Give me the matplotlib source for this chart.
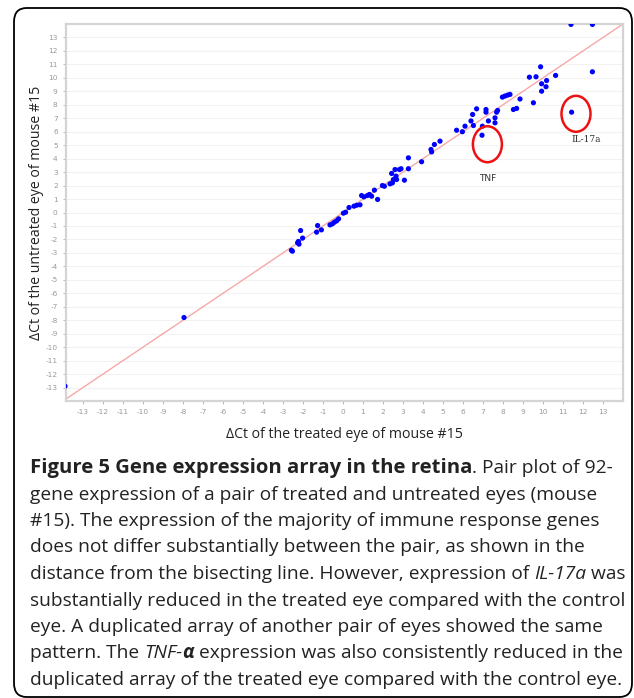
import matplotlib
matplotlib.use('Agg')
import matplotlib.pyplot as plt
from matplotlib.patches import Ellipse, FancyBboxPatch

plt.rcParams['axes.unicode_minus'] = False

# delta Ct values (treated eye, untreated eye)
treated = [-13.9, -7.95, -2.53, -2.58, -2.27, -2.23, -2.2, -2.12, -2.02,
           -1.32, -1.27, -1.08, -0.65, -0.53, -0.43, -0.32, -0.22,
           0.02, 0.13, 0.3, 0.55, 0.68, 0.85, 0.93, 1.05, 1.22, 1.32, 1.43,
           1.57, 1.73, 1.97, 2.07, 2.35, 2.47, 2.52, 2.68, 2.65, 2.43, 2.6,
           2.82, 2.9, 3.07, 3.27, 3.27, 3.93, 4.4, 4.43, 4.57, 4.85,
           5.68, 5.97, 6.1, 6.4, 6.52, 6.48, 6.68, 6.97, 7.27, 7.15, 7.15,
           7.6, 7.6, 7.68, 7.73, 6.95, 7.97, 8.1, 8.23, 8.35, 8.52, 8.68,
           8.85, 9.52, 9.32, 9.65, 9.88, 9.93, 10.18, 10.15, 9.93, 10.63,
           11.4, 12.47, 12.47, 11.43]
untreated = [-12.9, -7.8, -2.87, -2.8, -2.25, -2.15, -2.35, -1.34, -1.9,
             -1.46, -0.97, -1.29, -0.92, -0.84, -0.72, -0.62, -0.47,
             -0.05, 0.02, 0.37, 0.47, 0.54, 0.57, 1.26, 1.16, 1.26, 1.34, 1.21,
             1.66, 0.97, 2.0, 1.95, 2.13, 2.2, 2.45, 2.45, 2.7, 2.9, 3.19,
             3.19, 3.25, 2.4, 4.06, 3.25, 3.77, 4.68, 4.5, 5.05, 5.3,
             6.11, 6.0, 6.41, 6.8, 6.46, 7.28, 7.7, 6.41, 6.8, 7.65, 7.45,
             6.66, 7.03, 7.45, 7.58, 5.74, 8.57, 8.65, 8.72, 8.77, 7.65, 7.73,
             8.43, 8.15, 10.05, 10.08, 10.82, 9.56, 9.8, 9.34, 9.01, 10.18,
             13.97, 13.97, 10.45, 7.45]

x_ticks = list(range(-13, 14))
y_ticks = list(range(-13, 14))

# highlighted genes: label, ellipse centre, label position
highlight_labels = ['TNF', 'IL-17a']
highlight_centres = [(7.22, 5.07), (11.65, 7.33)]
highlight_text_pos = [(7.23, 2.55), (12.15, 5.4)]

caption_lines = [
    [('Figure 5 Gene expression array in the retina', 'bold', 'normal'),
     ('. Pair plot of 92-', 'normal', 'normal')],
    [('gene expression of a pair of treated and untreated eyes (mouse', 'normal', 'normal')],
    [('#15). The expression of the majority of immune response genes', 'normal', 'normal')],
    [('does not differ substantially between the pair, as shown in the', 'normal', 'normal')],
    [('distance from the bisecting line. However, expression of ', 'normal', 'normal'),
     ('IL-17a', 'normal', 'italic'), (' was', 'normal', 'normal')],
    [('substantially reduced in the treated eye compared with the control', 'normal', 'normal')],
    [('eye. A duplicated array of another pair of eyes showed the same', 'normal', 'normal')],
    [('pattern. The ', 'normal', 'normal'), ('TNF-', 'normal', 'italic'),
     ('\u03b1', 'bold', 'italic'), (' expression was also consistently reduced in the', 'normal', 'normal')],
    [('duplicated array of the treated eye compared with the control eye.', 'normal', 'normal')],
]

W, H = 634, 698
fig = plt.figure(figsize=(W / 100, H / 100), dpi=100)


def fx(px):
    return px / W


def fy(py):
    return 1 - py / H


# rounded frame around the whole figure panel
frame = FancyBboxPatch((fx(14), fy(697)), fx(632) - fx(14), fy(8) - fy(697),
                       boxstyle='round,pad=0,rounding_size=0.02',
                       transform=fig.transFigure, fill=False,
                       edgecolor='black', linewidth=1.3)
fig.patches.append(frame)

ax = fig.add_axes([fx(66), fy(401), fx(623) - fx(66), fy(24) - fy(401)])
xlim = (-13.85, 14.0)
ylim = (-14.0, 14.0)
ax.set_xlim(*xlim)
ax.set_ylim(*ylim)

for s in ax.spines.values():
    s.set_color('#d4d4d4')
    s.set_linewidth(1.6)

for yv in y_ticks:
    ax.axhline(yv, color='#f2f2f2', linewidth=0.8, zorder=0)

# bisecting line
ax.plot(xlim, xlim, color='#f7a8a8', linewidth=1.0, zorder=1)

ax.scatter(treated, untreated, s=14, color='#0000ff', edgecolors='none', zorder=3)

for lab, c, tp in zip(highlight_labels, highlight_centres, highlight_text_pos):
    ax.add_patch(Ellipse(c, width=1.45, height=2.67, fill=False,
                         edgecolor='#ee1111', linewidth=1.8, zorder=4))
    fam = 'DejaVu Sans' if lab == 'TNF' else 'DejaVu Serif'
    ax.text(tp[0], tp[1], lab, ha='center', va='center', fontsize=6.5,
            color='#333333', family=fam)

ax.set_xticks(x_ticks)
ax.set_yticks(y_ticks)
ax.tick_params(axis='both', labelsize=5.3, colors='#aaaaaa', length=2, width=0.6,
               labelcolor='#999999', pad=4)

ax.text(0.5, -0.088, '\u0394Ct of the treated eye of mouse #15', transform=ax.transAxes,
        ha='center', va='center', fontsize=10.2, family='Open Sans', color='#222222')
ax.text(fx(37), fy(213), '\u0394Ct of the untreated eye of mouse #15', transform=fig.transFigure,
        ha='center', va='center', rotation=90, fontsize=10.2, family='Open Sans', color='#222222')

# caption, one text per segment so bold/italic pieces stay inline
renderer = fig.canvas.get_renderer()
for i, segs in enumerate(caption_lines):
    base_y = fy(473 + i * 26.5)
    cur_x = 30
    for txt, weight, style in segs:
        size = 14.6 if weight == 'bold' and style == 'normal' else 13.8
        t = fig.text(fx(cur_x), base_y, txt, fontsize=size, family='Open Sans',
                     weight=weight, style=style, color='#222222',
                     va='baseline', ha='left')
        cur_x = t.get_window_extent(renderer).x1

fig.savefig('out.png', dpi=100)
